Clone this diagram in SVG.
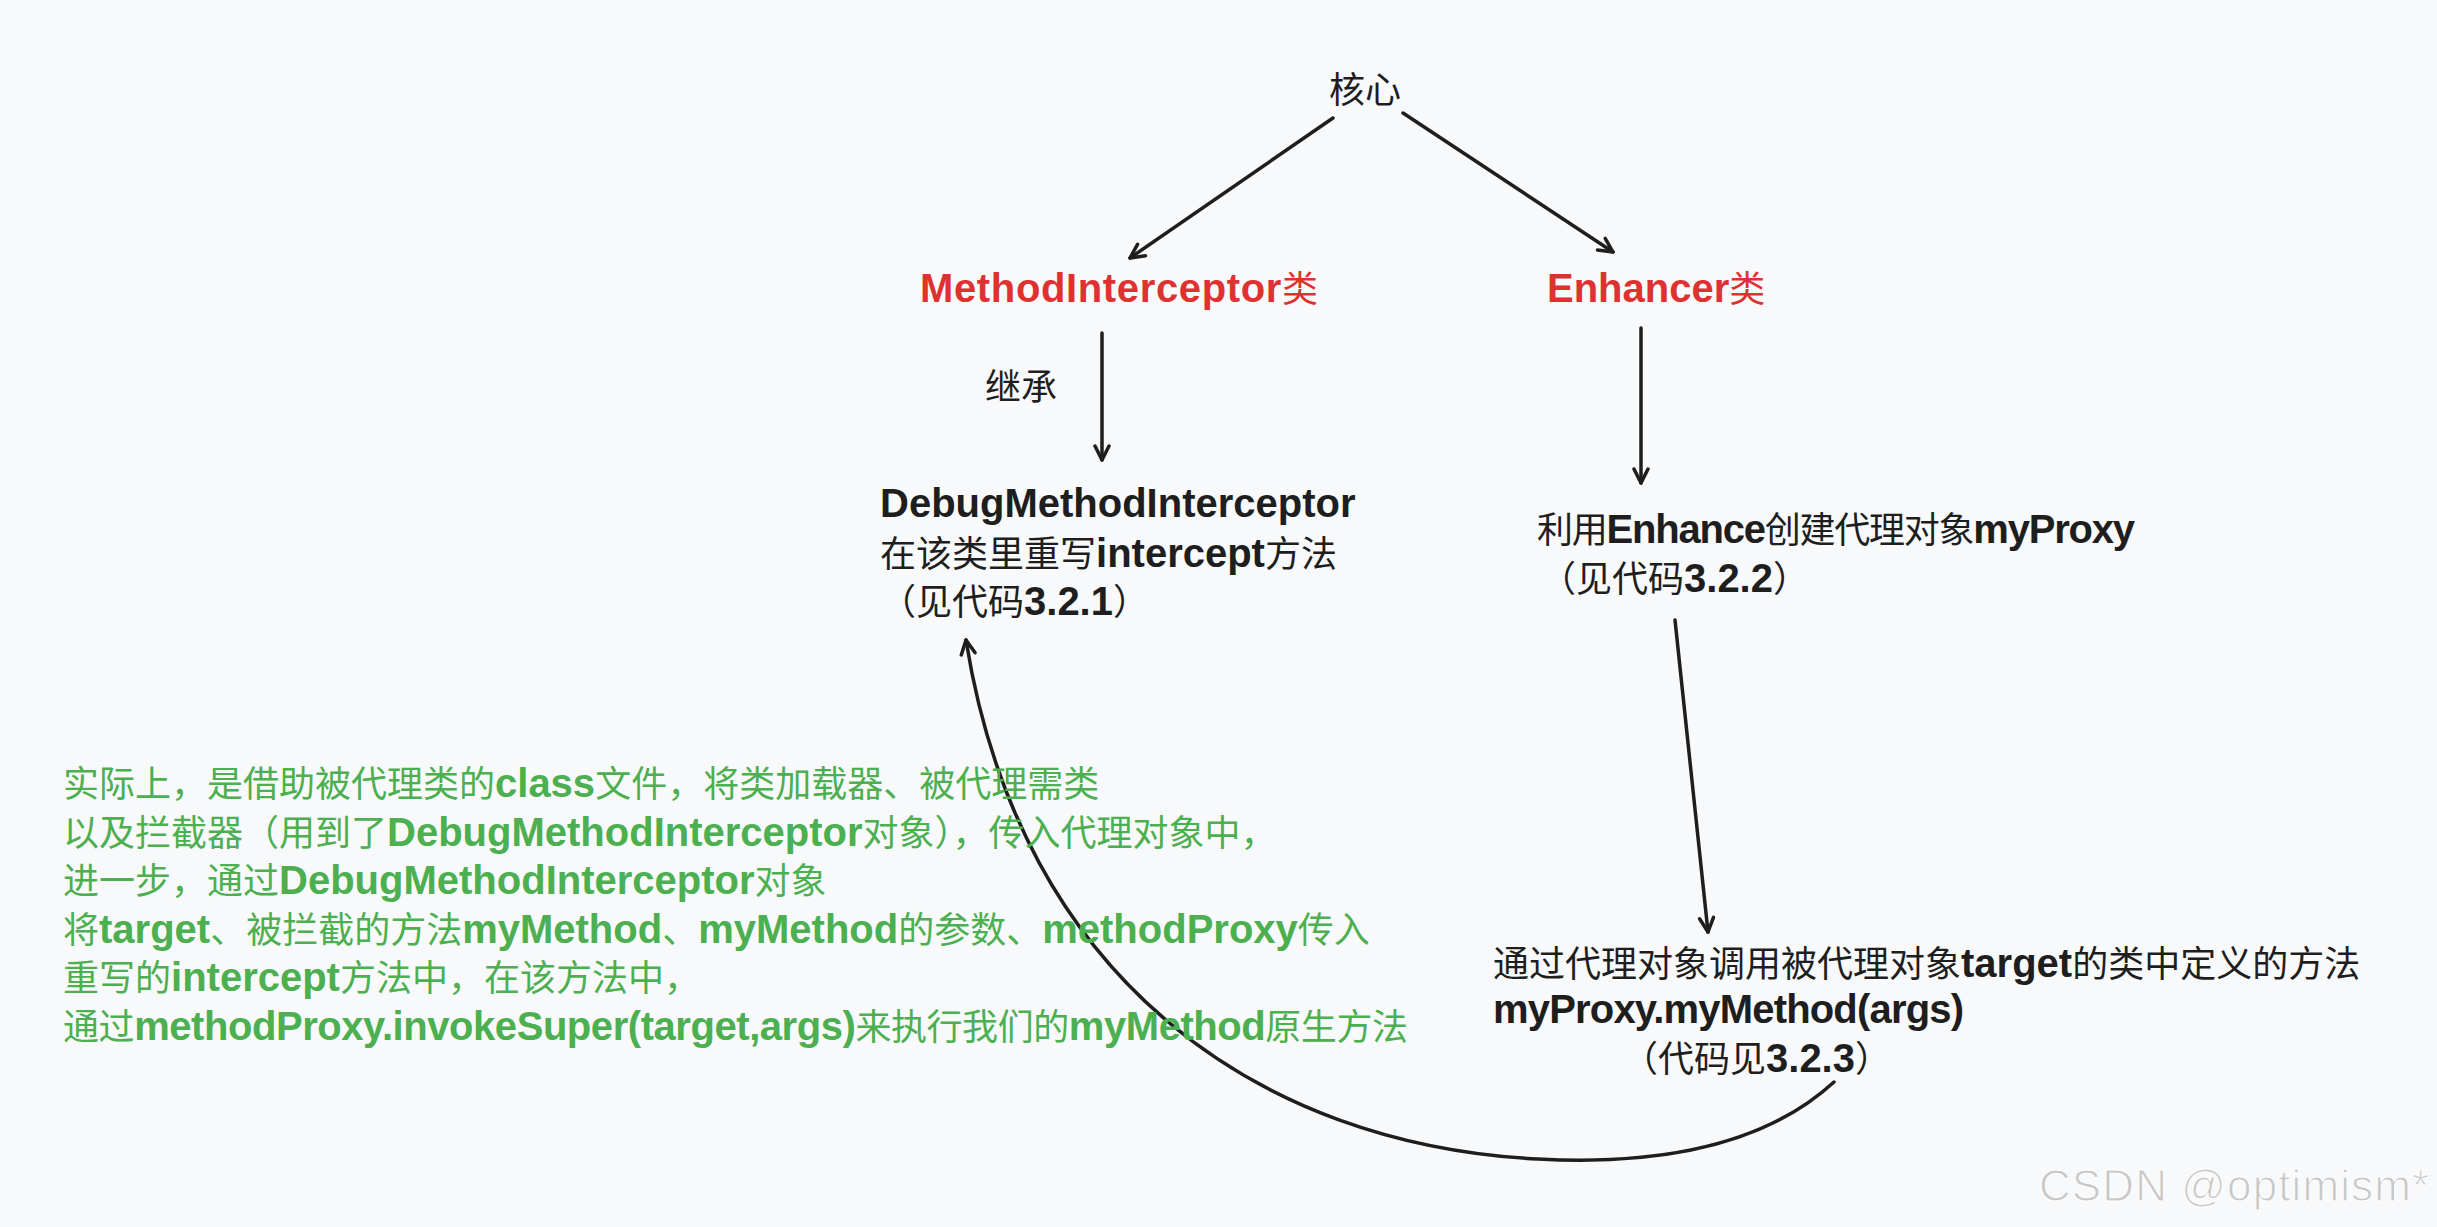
<svg xmlns="http://www.w3.org/2000/svg" width="2437" height="1227" viewBox="0 0 2437 1227">
<style>
.t{font-family:"Noto Sans CJK SC","Noto Sans",sans-serif;font-size:36px;fill:#1e1e1e}
.h{font-family:"Liberation Sans",Arial,sans-serif;font-weight:700;font-size:40px}
.red{fill:#e03131}
.green{fill:#4caf50}
.ln{fill:none;stroke:#1e1e1e;stroke-width:3.5;stroke-linecap:round}
.wm{font-family:"Liberation Sans",Arial,sans-serif;font-size:44px;fill:#c8c8c8;stroke:#ffffff;stroke-width:1}
</style>
<defs>
<marker id="ah" markerUnits="userSpaceOnUse" viewBox="-18 -10 20 20" refX="0" refY="0" markerWidth="20" markerHeight="20" orient="auto">
<path d="M-14,-7 L0,0 L-14,7" fill="none" stroke="#1e1e1e" stroke-width="3.5" stroke-linecap="round" stroke-linejoin="round"/>
</marker>
</defs>
<rect width="2437" height="1227" fill="#f8f9fb"/>
<g id="connectors">
<line class="ln" x1="1333" y1="118" x2="1130" y2="258" marker-end="url(#ah)"/>
<line class="ln" x1="1403" y1="113" x2="1613" y2="252" marker-end="url(#ah)"/>
<line class="ln" x1="1102" y1="333" x2="1102" y2="460" marker-end="url(#ah)"/>
<line class="ln" x1="1641" y1="328" x2="1641" y2="483" marker-end="url(#ah)"/>
<line class="ln" x1="1675" y1="620" x2="1708" y2="932" marker-end="url(#ah)"/>
<path class="ln" d="M1834,1082 C1760,1150 1650,1165 1538,1159 C1260,1145 1020,980 966,640" marker-end="url(#ah)"/>
<text class="t" x="985" y="400">继承</text>
</g>
<g id="core"><text class="t" x="1329" y="103">核心</text></g>
<g id="method-interceptor"><text class="t red" x="920" y="302" textLength="398"><tspan class="h">MethodInterceptor</tspan>类</text></g>
<g id="enhancer"><text class="t red" x="1547" y="302"><tspan class="h">Enhancer</tspan>类</text></g>
<g id="debug-interceptor">
<text class="t" x="880" y="517"><tspan class="h">DebugMethodInterceptor</tspan></text>
<text class="t" x="880" y="567">在该类里重写<tspan class="h">intercept</tspan>方法</text>
<text class="t" x="880" y="615">（见代码<tspan class="h">3.2.1</tspan>）</text>
</g>
<g id="create-proxy">
<text class="t" x="1537" y="543" textLength="598">利用<tspan class="h">Enhance</tspan>创建代理对象<tspan class="h">myProxy</tspan></text>
<text class="t" x="1540" y="592">（见代码<tspan class="h">3.2.2</tspan>）</text>
</g>
<g id="invoke">
<text class="t" x="1493" y="977">通过代理对象调用被代理对象<tspan class="h">target</tspan>的类中定义的方法</text>
<text class="t" x="1493" y="1023" textLength="471"><tspan class="h">myProxy.myMethod(args)</tspan></text>
<text class="t" x="1622" y="1072">（代码见<tspan class="h">3.2.3</tspan>）</text>
</g>
<g id="note">
<text class="t green" x="63" y="797">实际上，是借助被代理类的<tspan class="h">class</tspan>文件，将类加载器、被代理需类</text>
<text class="t green" x="63" y="846">以及拦截器（用到了<tspan class="h">DebugMethodInterceptor</tspan>对象），传入代理对象中，</text>
<text class="t green" x="63" y="894">进一步，通过<tspan class="h">DebugMethodInterceptor</tspan>对象</text>
<text class="t green" x="63" y="943">将<tspan class="h">target</tspan>、被拦截的方法<tspan class="h">myMethod</tspan>、<tspan class="h">myMethod</tspan>的参数、<tspan class="h">methodProxy</tspan>传入</text>
<text class="t green" x="63" y="991">重写的<tspan class="h">intercept</tspan>方法中，在该方法中，</text>
<text class="t green" x="63" y="1040" textLength="1345">通过<tspan class="h">methodProxy.invokeSuper(target,args)</tspan>来执行我们的<tspan class="h">myMethod</tspan>原生方法</text>
</g>
<text class="wm" x="2039" y="1201" textLength="390">CSDN @optimism*</text>
</svg>
